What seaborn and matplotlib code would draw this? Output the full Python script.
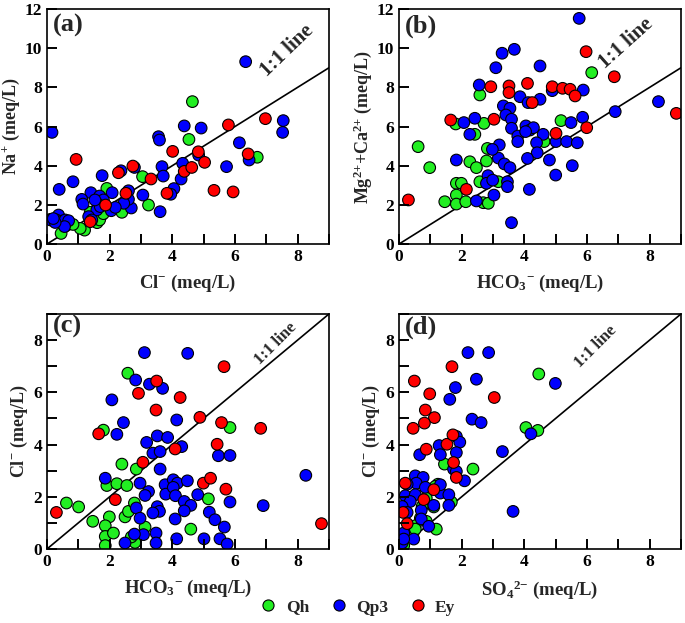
import numpy as np
import pandas as pd
import matplotlib
matplotlib.use("Agg")
import matplotlib.pyplot as plt
import seaborn as sns
from matplotlib.lines import Line2D
from matplotlib.ticker import MultipleLocator

# groups and colours
groups = ["Qh", "Qp3", "Ey"]
colors = {"Qh": "#22ee22", "Qp3": "#0000ff", "Ey": "#ff0000"}

# (a) Cl- vs Na+
a_qh_x = [4.64, 4.53, 6.71, 3.05, 3.24, 1.91, 2.39, 1.75, 1.38, 1.60, 1.68, 1.20, 1.06, 0.83, 0.11, 0.45, 1.80]
a_qh_y = [7.27, 5.34, 4.43, 3.44, 1.99, 2.84, 1.62, 1.48, 1.62, 1.09, 1.23, 0.71, 0.80, 1.00, 1.26, 0.54, 1.55]
a_qp3_x = [0.16, 6.34, 7.54, 7.52, 6.14, 4.38, 4.92, 3.56, 3.59, 5.73, 6.45, 4.84, 4.33, 4.28, 4.05, 3.95, 3.67,
           3.71, 3.61, 3.06, 2.36, 2.79, 2.60, 2.69, 2.60, 2.45, 2.08, 1.76, 2.05, 2.18, 1.40, 1.68, 1.80, 1.62,
           1.59, 1.70, 1.11, 1.15, 0.83, 0.39, 0.37, 0.30, 0.48, 0.58, 0.69, 0.56, 0.11, 1.33, 1.43, 1.53, 0.26, 0.20]
a_qp3_y = [5.70, 9.31, 6.30, 5.70, 5.17, 6.03, 5.92, 5.48, 5.31, 3.95, 4.29, 4.54, 4.12, 3.32, 2.83, 2.54, 3.95,
           3.47, 1.65, 2.50, 3.74, 3.91, 2.72, 1.84, 2.28, 2.08, 2.62, 3.49, 1.70, 1.87, 2.62, 2.45, 2.25, 2.04,
           1.74, 1.91, 2.28, 2.04, 3.18, 2.79, 1.48, 1.23, 1.17, 1.23, 1.19, 0.89, 1.23, 1.40, 1.23, 2.25, 1.10, 1.30]
a_ey_x = [0.93, 2.28, 2.74, 3.32, 4.01, 4.38, 4.62, 4.83, 5.03, 5.79, 6.97, 6.42, 5.33, 5.94, 3.83, 2.52, 1.87, 1.38]
a_ey_y = [4.32, 3.64, 3.98, 3.32, 4.73, 3.71, 3.91, 4.71, 4.17, 6.08, 6.40, 4.60, 2.74, 2.66, 2.59, 2.59, 1.99, 1.14]

# (b) HCO3- vs Mg2+ + Ca2+
b_qh_x = [0.61, 0.98, 1.46, 1.81, 1.83, 1.99, 1.83, 1.83, 2.13, 2.26, 2.42, 2.47, 2.58, 2.58, 2.69, 2.85, 2.79,
          2.82, 2.71, 3.17, 5.17, 4.63, 6.15]
b_qh_y = [4.97, 3.90, 2.16, 6.13, 3.10, 3.10, 2.50, 2.04, 2.16, 4.20, 5.60, 3.90, 3.18, 7.61, 2.11, 2.08, 4.24,
          4.88, 6.16, 3.18, 6.30, 5.23, 8.75]
b_qp3_x = [5.75, 3.29, 3.68, 3.09, 4.50, 2.56, 3.86, 4.12, 4.50, 5.88, 4.89, 3.33, 3.54, 3.41, 3.59, 3.59, 2.42,
           2.07, 2.26, 3.79, 3.79, 4.05, 4.18, 4.29, 4.04, 4.60, 4.39, 4.41, 4.10, 4.80, 5.01, 5.35, 5.69, 5.49,
           5.86, 5.53, 5.00, 4.16, 3.20, 3.17, 2.98, 3.36, 3.54, 3.46, 3.46, 3.03, 2.84, 2.79, 1.83, 2.47, 3.59,
           6.90, 8.28, 2.99]
b_qp3_y = [11.52, 9.74, 9.94, 9.00, 9.09, 8.12, 7.52, 7.22, 7.39, 7.86, 7.83, 7.05, 6.93, 6.59, 6.37, 5.91, 6.42,
           6.20, 5.60, 5.51, 5.23, 6.03, 5.82, 5.94, 5.74, 5.60, 5.17, 4.66, 4.37, 4.29, 5.23, 5.23, 5.17, 6.20,
           6.47, 4.00, 3.52, 2.79, 5.06, 4.39, 4.83, 4.09, 3.90, 3.18, 2.93, 2.50, 3.49, 3.10, 4.29, 2.20, 1.09,
           6.76, 7.27, 3.26]
b_ey_x = [0.30, 1.65, 2.15, 2.93, 3.03, 3.51, 3.51, 4.10, 4.25, 4.89, 5.22, 5.46, 5.62, 5.97, 5.99, 5.01, 6.87, 8.85]
b_ey_y = [2.25, 6.33, 2.79, 8.03, 6.37, 8.07, 7.73, 8.20, 7.22, 8.03, 7.95, 7.90, 7.56, 9.82, 5.94, 5.65, 8.54, 6.67]

# (c) HCO3- vs Cl-
c_qh_x = [0.62, 1.01, 1.46, 1.80, 1.91, 2.23, 2.39, 2.85, 2.58, 2.55, 1.99, 1.86, 1.86, 1.86, 2.12, 2.49, 2.60,
          2.79, 2.81, 3.13, 2.69, 4.59, 5.15, 5.84]
c_qh_y = [1.76, 1.61, 1.06, 4.55, 2.43, 2.50, 3.25, 3.06, 6.73, 2.43, 1.23, 0.89, 0.48, 0.13, 0.61, 1.23, 1.44,
          1.76, 0.25, 0.84, 0.46, 0.76, 1.92, 4.65]
c_qp3_x = [3.11, 4.49, 3.27, 2.83, 3.69, 2.07, 2.44, 2.23, 3.18, 3.52, 3.85, 4.14, 4.30, 3.38, 3.61, 3.61, 5.47,
           5.84, 1.86, 2.97, 3.24, 3.13, 3.77, 3.79, 4.03, 4.16, 4.03, 4.10, 4.48, 4.81, 4.38, 4.59, 4.38, 5.18,
           5.84, 6.90, 8.26, 3.52, 3.59, 3.38, 4.09, 2.85, 2.97, 3.08, 2.79, 2.49, 3.48, 3.48, 4.14, 5.01, 5.52,
           5.75, 5.36, 5.66]
c_qp3_y = [7.52, 7.49, 6.31, 6.47, 6.15, 5.71, 4.84, 4.39, 4.08, 4.33, 4.27, 4.94, 3.92, 3.67, 3.73, 3.06, 3.57,
           3.58, 2.71, 2.52, 2.20, 2.05, 2.46, 2.10, 2.65, 2.52, 2.36, 2.04, 2.61, 2.08, 1.82, 1.67, 1.46, 1.41,
           1.80, 1.66, 2.82, 1.62, 1.44, 1.38, 1.15, 1.57, 1.18, 0.55, 0.57, 0.23, 0.61, 0.23, 0.39, 0.39, 0.39,
           0.19, 1.12, 0.84]
c_ey_x = [0.30, 1.65, 2.18, 2.92, 3.50, 3.48, 3.06, 4.09, 4.25, 4.88, 5.43, 5.57, 4.99, 5.22, 5.71, 5.65, 6.82, 8.76]
c_ey_y = [1.40, 4.41, 1.89, 5.96, 6.43, 5.32, 3.32, 3.83, 5.80, 5.04, 4.01, 4.84, 2.52, 2.71, 2.29, 6.98, 4.62, 0.97]

# (d) SO4 2- vs Cl-
d_qh_x = [4.46, 4.05, 4.43, 2.36, 1.45, 1.24, 1.16, 0.87, 1.67, 1.11, 0.74, 0.68, 0.87, 1.19, 0.52, 0.45, 0.15, 0.52]
d_qh_y = [6.70, 4.65, 4.54, 3.06, 3.25, 2.48, 2.40, 1.95, 1.80, 1.61, 1.63, 1.18, 1.06, 0.76, 0.89, 0.61, 0.13, 0.76]
d_qp3_x = [2.20, 2.86, 2.47, 1.80, 1.62, 2.33, 2.62, 4.99, 4.21, 3.30, 3.64, 1.28, 1.32, 0.66, 1.83, 1.94, 1.83,
           1.74, 1.83, 2.09, 0.52, 0.77, 0.55, 0.84, 0.26, 1.32, 1.32, 1.59, 1.59, 1.11, 0.20, 0.52, 0.36, 0.10,
           0.71, 0.71, 0.26, 0.95, 0.15, 0.47, 0.10, 0.15]
d_qp3_y = [7.52, 7.52, 6.50, 6.18, 5.73, 4.97, 4.84, 6.34, 4.41, 3.73, 1.44, 3.96, 3.61, 3.61, 4.31, 4.09, 3.69,
           3.06, 2.97, 2.61, 2.80, 2.74, 2.52, 2.36, 2.48, 2.14, 2.46, 2.08, 1.67, 1.67, 2.04, 2.08, 1.82, 1.63,
           1.48, 1.15, 1.40, 0.87, 0.61, 0.38, 0.23, 0.38]
d_ey_x = [1.69, 0.49, 0.98, 3.04, 0.84, 1.13, 0.81, 0.45, 0.87, 1.53, 1.72, 1.74, 1.83, 0.20, 1.11, 0.79, 0.13, 0.26]
d_ey_y = [6.98, 6.43, 5.94, 5.80, 5.32, 5.03, 4.82, 4.62, 3.82, 4.01, 4.37, 3.31, 2.74, 2.52, 2.27, 1.89, 1.40, 0.97]

sns.set_style("ticks")
plt.rcParams["font.family"] = ["Liberation Serif", "DejaVu Serif"]
plt.rcParams["font.weight"] = "bold"
plt.rcParams["axes.labelweight"] = "bold"
plt.rcParams["mathtext.fontset"] = "custom"
plt.rcParams["mathtext.rm"] = "Liberation Serif:bold"
plt.rcParams["mathtext.it"] = "Liberation Serif:bold"
plt.rcParams["mathtext.bf"] = "Liberation Serif:bold"
plt.rcParams["mathtext.default"] = "rm"
plt.rcParams["axes.axisbelow"] = False
for ax_name in ["xtick", "ytick"]:
    plt.rcParams[f"{ax_name}.color"] = "black"
    plt.rcParams[f"{ax_name}.direction"] = "in"
    plt.rcParams[f"{ax_name}.major.size"] = 7.5
    plt.rcParams[f"{ax_name}.minor.size"] = 7.5
    plt.rcParams[f"{ax_name}.major.width"] = 1.4
    plt.rcParams[f"{ax_name}.minor.width"] = 1.4
plt.rcParams["xtick.bottom"] = True
plt.rcParams["ytick.left"] = True


def make_df(qh_x, qh_y, qp3_x, qp3_y, ey_x, ey_y):
    parts = []
    for g, xs, ys in zip(groups, [qh_x, qp3_x, ey_x], [qh_y, qp3_y, ey_y]):
        parts.append(pd.DataFrame({"x": xs, "y": ys, "group": g}))
    return pd.concat(parts, ignore_index=True)


def draw_panel(ax, df, ymax, ymajor, yminor, xlabel, ylabel, tag, tag_y, txt_xy, txt_rot, txt_size):
    ax.plot([0, 9], [0, 9], color="black", lw=1.2, zorder=1)
    sns.scatterplot(data=df, x="x", y="y", hue="group", palette=colors, s=70,
                    edgecolor="black", linewidth=0.8, legend=False, ax=ax, zorder=2)
    ax.set_xlim(0, 9)
    ax.set_ylim(0, ymax)
    ax.xaxis.set_major_locator(MultipleLocator(2))
    ax.xaxis.set_minor_locator(MultipleLocator(1))
    ax.yaxis.set_major_locator(MultipleLocator(ymajor))
    if yminor:
        ax.yaxis.set_minor_locator(MultipleLocator(yminor))
    ax.tick_params(which="both", direction="in", length=7.5, width=1.4, labelsize=12.5,
                   bottom=True, left=True, top=False, right=False, colors="black")
    for lab in ax.get_xticklabels() + ax.get_yticklabels():
        lab.set_fontweight("bold")
    for sp in ax.spines.values():
        sp.set_linewidth(1.2)
        sp.set_color("black")
        sp.set_visible(True)
    ax.set_xlabel(xlabel, fontsize=13.5, fontweight="bold", labelpad=6)
    ax.set_ylabel(ylabel, fontsize=13, fontweight="bold", labelpad=2)
    ax.text(0.02, tag_y, tag, transform=ax.transAxes, ha="left", va="center",
            fontsize=19, fontweight="bold")
    ax.text(txt_xy[0], txt_xy[1], "1:1 line", rotation=txt_rot, ha="center", va="center",
            fontsize=txt_size, fontweight="bold")


fig = plt.figure(figsize=(6.85, 6.23), dpi=100)
ax_a = fig.add_axes([0.0686, 0.6083, 0.4117, 0.3773])
ax_b = fig.add_axes([0.5825, 0.6083, 0.4117, 0.3773])
ax_c = fig.add_axes([0.0686, 0.1188, 0.4117, 0.3773])
ax_d = fig.add_axes([0.5825, 0.1188, 0.4117, 0.3773])

draw_panel(ax_a, make_df(a_qh_x, a_qh_y, a_qp3_x, a_qp3_y, a_ey_x, a_ey_y), 12, 2, None,
           "Cl$^{-}$ (meq/L)", "Na$^{+}$ (meq/L)", "(a)", 0.928, (7.65, 9.85), 44, 15)
draw_panel(ax_b, make_df(b_qh_x, b_qh_y, b_qp3_x, b_qp3_y, b_ey_x, b_ey_y), 12, 2, None,
           "HCO$_{3}$$^{-}$ (meq/L)", "Mg$^{2{+}}$+Ca$^{2{+}}$ (meq/L)", "(b)", 0.928, (7.25, 10.25), 42, 15)
draw_panel(ax_c, make_df(c_qh_x, c_qh_y, c_qp3_x, c_qp3_y, c_ey_x, c_ey_y), 9, 2, 1,
           "HCO$_{3}$$^{-}$ (meq/L)", "Cl$^{-}$ (meq/L)", "(c)", 0.945, (7.3, 7.87), 45, 12)
draw_panel(ax_d, make_df(d_qh_x, d_qh_y, d_qp3_x, d_qp3_y, d_ey_x, d_ey_y), 9, 2, 1,
           "SO$_{4}$$^{2{-}}$ (meq/L)", "Cl$^{-}$ (meq/L)", "(d)", 0.945, (6.27, 7.75), 45, 12)

handles = [Line2D([], [], marker="o", linestyle="", markersize=8, markerfacecolor=colors[g],
                  markeredgecolor="black", markeredgewidth=0.8, label=g) for g in groups]
fig.legend(handles=handles, loc="center", bbox_to_anchor=(0.522, 0.025), ncol=3, frameon=False,
           prop={"weight": "bold", "size": 12.5}, handlelength=1.0, handletextpad=0.5,
           columnspacing=1.2)

fig.savefig("out.png", dpi=100)
